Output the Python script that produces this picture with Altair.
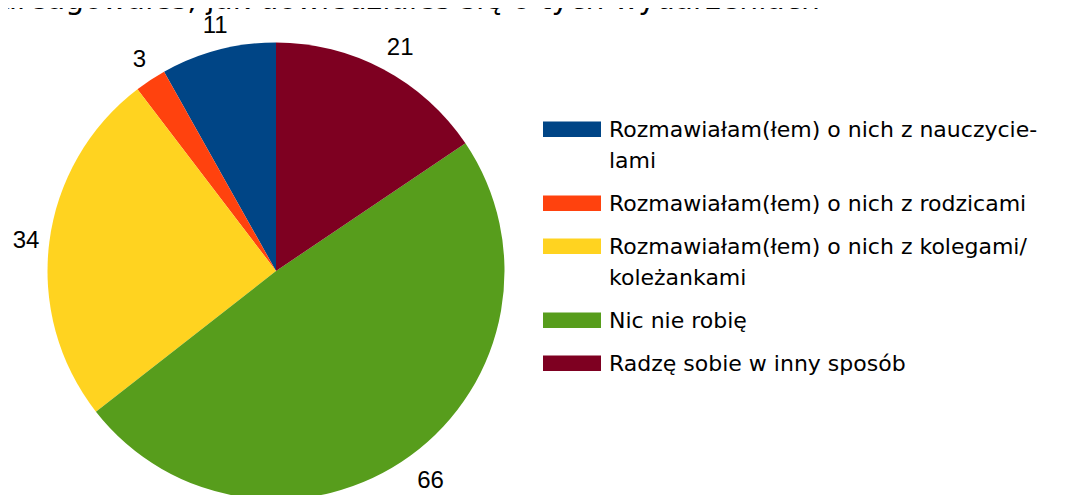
import json
import altair as alt
import pandas as pd

categories = [
    "Rozmawiałam(łem) o nich z nauczycielami",
    "Rozmawiałam(łem) o nich z rodzicami",
    "Rozmawiałam(łem) o nich z kolegami/koleżankami",
    "Nic nie robię",
    "Radzę sobie w inny sposób",
]
values = [11, 3, 34, 66, 21]
colors = ["#004586", "#ff420e", "#ffd320", "#579d1c", "#7e0021"]
legend_lines = [
    ["Rozmawiałam(łem) o nich z nauczycie-", "lami"],
    ["Rozmawiałam(łem) o nich z rodzicami"],
    ["Rozmawiałam(łem) o nich z kolegami/", "koleżankami"],
    ["Nic nie robię"],
    ["Radzę sobie w inny sposób"],
]
title_text = "Jak zareagowałeś, jak dowiedziałeś się o tych wydarzeniach"

df = pd.DataFrame({"category": categories, "value": values, "idx": list(range(len(categories)))})
title_df = pd.DataFrame({"t": [title_text]})

label_expr = "datum.label"
for cat, lines in reversed(list(zip(categories, legend_lines))):
    label_expr = (
        f"datum.label === {json.dumps(cat, ensure_ascii=False)} ? "
        f"{json.dumps(lines, ensure_ascii=False)} : ({label_expr})"
    )

CX, CY, R = 268, 263, 228.5
FONT = "Liberation Sans"
LEGEND_FONT = "DejaVu Sans"

base = alt.Chart(df).encode(
    theta=alt.Theta("value:Q", stack=True),
    order=alt.Order("idx:Q", sort="descending"),
)

arcs = base.mark_arc(radius=R, x=CX, y=CY).encode(
    color=alt.Color(
        "category:N",
        scale=alt.Scale(domain=categories, range=colors),
        sort=categories,
        legend=alt.Legend(
            title=None,
            orient="none",
            legendX=535,
            legendY=100,
            symbolType="M-1,-0.534H1V0H-1Z",
            symbolSize=3364,
            symbolStrokeWidth=0,
            symbolOpacity=1,
            labelFont=LEGEND_FONT,
            labelFontSize=22,
            labelColor="black",
            labelBaseline="alphabetic",
            labelOffset=8,
            labelLimit=700,
            rowPadding=10,
            padding=0,
            labelExpr=label_expr,
        ),
    )
)

labels = base.mark_text(
    radius=256, x=CX, y=CY, dx=4, dy=3, fontSize=24, font=FONT, color="black",
    align="center", baseline="middle",
).encode(text="value:Q")

title = alt.Chart(title_df).mark_text(
    x=812, y=1, align="right", baseline="alphabetic", fontSize=29.8, font=LEGEND_FONT, color="black"
).encode(text="t:N")

chart = (
    alt.layer(arcs, labels, title)
    .properties(width=1053, height=487, padding=0, autosize="none", background="white")
    .configure_view(stroke=None)
    .configure(style={"guide-label": {"lineHeight": 31}})
)

chart.save("out.html", embed_options={"renderer": "svg", "actions": False})
